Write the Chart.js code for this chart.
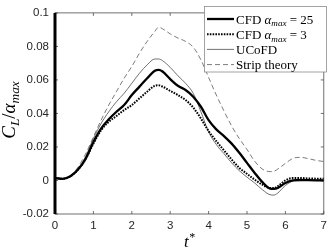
<!DOCTYPE html>
<html>
<head>
<meta charset="utf-8">
<script src="https://cdn.jsdelivr.net/npm/chart.js@4"></script>
<style>
  html, body { margin: 0; padding: 0; background: #fff; }
  #wrap { width: 332px; height: 252px; }
</style>
</head>
<body>
<div id="wrap"><canvas id="c"></canvas></div>
<script>
// time axis shared by all four curves
var tStar = [0, 0.2, 0.4, 0.6, 0.8, 1.0, 1.2, 1.4, 1.6, 1.8, 2.0, 2.2, 2.4, 2.6, 2.7, 2.8,
             3.0, 3.2, 3.4, 3.6, 3.8, 4.0, 4.2, 4.4, 4.6, 4.8, 5.0, 5.2, 5.4, 5.6, 5.7, 5.8,
             6.0, 6.2, 6.4, 6.6, 6.8, 7.0];

var cfd25 = [0.0015, 0.001, 0.0025, 0.0065, 0.013, 0.023, 0.031, 0.0365, 0.041, 0.045, 0.051, 0.056, 0.061, 0.0655, 0.066, 0.065,
             0.0605, 0.0565, 0.054, 0.05, 0.044, 0.036, 0.0305, 0.0265, 0.022, 0.0165, 0.0105, 0.0045, -0.001, -0.0048, -0.005, -0.0045,
             -0.0015, 0, 0.0003, 0.0002, 0.0001, 0];

var cfd3 = [0.0015, 0.001, 0.0025, 0.0065, 0.013, 0.022, 0.03, 0.035, 0.0385, 0.042, 0.045, 0.049, 0.053, 0.0565, 0.0568, 0.056,
            0.0535, 0.051, 0.048, 0.0435, 0.037, 0.0295, 0.0235, 0.018, 0.0125, 0.0075, 0.004, 0.0005, -0.0025, -0.0045, -0.0045, -0.0035,
            0, 0.0015, 0.0015, 0.0012, 0.0011, 0.001];

var ucofd = [0.0015, 0.001, 0.0025, 0.007, 0.0145, 0.025, 0.034, 0.041, 0.047, 0.052, 0.058, 0.064, 0.069, 0.0725, 0.0725, 0.0715,
             0.0675, 0.0625, 0.058, 0.052, 0.041, 0.029, 0.0215, 0.016, 0.0105, 0.0058, 0.002, -0.0015, -0.0055, -0.0085, -0.0087, -0.0075,
             -0.003, -0.0003, 0.0003, 0.0002, 0.0001, 0];

var strip = [0.0015, 0.001, 0.0025, 0.008, 0.016, 0.026, 0.036, 0.045, 0.053, 0.061, 0.068, 0.076, 0.083, 0.089, 0.0915, 0.0905,
             0.0875, 0.085, 0.083, 0.0795, 0.072, 0.0615, 0.051, 0.0415, 0.0325, 0.025, 0.0185, 0.0115, 0.0068, 0.0053, 0.0055, 0.0068,
             0.0102, 0.0132, 0.0138, 0.013, 0.012, 0.0113];

// impulsive start of the CFD run, goes off the scale at t* = 0
var tSpike = [0, 0];
var cfd25Spike = [-0.05, 0.15];

var xTicks = [0, 1, 2, 3, 4, 5, 6, 7];
var yTicks = [-0.02, 0, 0.02, 0.04, 0.06, 0.08, 0.1];

function pts(t, v) {
    return t.map(function (x, i) { return { x: x, y: v[i] }; });
}

var serif = '"Liberation Serif", "DejaVu Serif", serif';
var sans = '"Liberation Sans", Arial, sans-serif';

var legendRows = [
    { ds: 0, parts: [['CFD ', ''], ['\u03b1', 'i'], ['max', 'sub'], [' = 25', '']] },
    { ds: 1, parts: [['CFD ', ''], ['\u03b1', 'i'], ['max', 'sub'], [' = 3', '']] },
    { ds: 2, parts: [['UCoFD', '']] },
    { ds: 3, parts: [['Strip theory', '']] }
];

function drawParts(ctx, parts, x, y, size) {
    parts.forEach(function (p) {
        var sub = p[1] === 'sub', sup = p[1] === 'sup';
        var fs = (sub || sup) ? size * 0.7 : size;
        var it = (p[1] === 'i' || sub || sup) ? 'italic ' : '';
        ctx.font = it + fs + 'px ' + serif;
        var dy = sub ? size * 0.22 : (sup ? -size * 0.38 : 0);
        ctx.fillText(p[0], x, y + dy);
        x += ctx.measureText(p[0]).width;
    });
    return x;
}

function partsWidth(ctx, parts, size) {
    var w = 0;
    parts.forEach(function (p) {
        var sub = p[1] === 'sub', sup = p[1] === 'sup';
        var fs = (sub || sup) ? size * 0.7 : size;
        var it = (p[1] === 'i' || sub || sup) ? 'italic ' : '';
        ctx.font = it + fs + 'px ' + serif;
        w += ctx.measureText(p[0]).width;
    });
    return w;
}

var framePlugin = {
    id: 'frame',
    beforeDatasetsDraw: function (chart) {
        var ctx = chart.ctx, a = chart.chartArea;
        var xs = chart.scales.x, ys = chart.scales.y;
        ctx.save();
        ctx.strokeStyle = '#4d4d4d';
        ctx.lineWidth = 0.8;
        ctx.strokeRect(a.left, a.top, a.right - a.left, a.bottom - a.top);
        ctx.beginPath();
        xTicks.forEach(function (v) {
            var px = xs.getPixelForValue(v);
            ctx.moveTo(px, a.bottom); ctx.lineTo(px, a.bottom - 3);
            ctx.moveTo(px, a.top); ctx.lineTo(px, a.top + 3);
        });
        yTicks.forEach(function (v) {
            var py = ys.getPixelForValue(v);
            ctx.moveTo(a.left, py); ctx.lineTo(a.left + 3, py);
            ctx.moveTo(a.right, py); ctx.lineTo(a.right - 3, py);
        });
        ctx.stroke();
        ctx.restore();
    },
    afterDatasetsDraw: function (chart) {
        var ctx = chart.ctx, a = chart.chartArea;
        ctx.save();

        // legend box
        var bx = 204.5, by = 6.5, bw = 122, bh = 65.5;
        ctx.fillStyle = '#fff';
        ctx.fillRect(bx, by, bw, bh);
        ctx.strokeStyle = '#8c8c8c';
        ctx.lineWidth = 0.8;
        ctx.strokeRect(bx, by, bw, bh);
        legendRows.forEach(function (row, i) {
            var ds = chart.data.datasets[row.ds];
            var cy = 19 + i * 15.2;
            ctx.beginPath();
            ctx.strokeStyle = ds.borderColor;
            ctx.lineWidth = ds.borderWidth;
            ctx.setLineDash(ds.borderDash || []);
            ctx.moveTo(207, cy);
            ctx.lineTo(234, cy);
            ctx.stroke();
            ctx.setLineDash([]);
            ctx.fillStyle = '#000';
            ctx.textBaseline = 'alphabetic';
            ctx.textAlign = 'left';
            drawParts(ctx, row.parts, 236, cy + 4.5, 13);
        });

        // x title  t*
        ctx.fillStyle = '#000';
        var xt = [['t', 'i'], ['*', 'sup']];
        var w = partsWidth(ctx, xt, 17);
        drawParts(ctx, xt, (a.left + a.right) / 2 - w / 2, 247, 17);

        // y title  C_L / alpha_max
        var yt = [['C', 'i'], ['L', 'sub'], ['/', ''], ['\u03b1', 'i'], ['max', 'sub']];
        ctx.translate(15, 110);
        ctx.rotate(-Math.PI / 2);
        var wy = partsWidth(ctx, yt, 19);
        drawParts(ctx, yt, -wy / 2, 0, 19);
        ctx.restore();
    }
};

var tickFont = { family: sans, size: 11.5 };

new Chart(document.getElementById('c'), {
    type: 'line',
    data: {
        datasets: [
            { label: 'CFD alpha_max = 25', data: pts(tStar, cfd25), borderColor: '#000', borderWidth: 2.3,
              cubicInterpolationMode: 'monotone', pointRadius: 0 },
            { label: 'CFD alpha_max = 3', data: pts(tStar, cfd3), borderColor: '#000', borderWidth: 2,
              borderDash: [1.6, 1.2], cubicInterpolationMode: 'monotone', pointRadius: 0 },
            { label: 'UCoFD', data: pts(tStar, ucofd), borderColor: '#333', borderWidth: 0.7,
              cubicInterpolationMode: 'monotone', pointRadius: 0 },
            { label: 'Strip theory', data: pts(tStar, strip), borderColor: '#444', borderWidth: 0.7,
              borderDash: [5, 3], cubicInterpolationMode: 'monotone', pointRadius: 0 },
            { label: 'spike', data: pts(tSpike, cfd25Spike), borderColor: '#000', borderWidth: 3,
              pointRadius: 0, tension: 0, clip: { left: 3, right: 0, top: 0, bottom: 0 } }
        ]
    },
    options: {
        responsive: true,
        maintainAspectRatio: false,
        animation: false,
        devicePixelRatio: 1,
        layout: { padding: { top: 5, right: 4, left: 0, bottom: 0 } },
        plugins: { legend: { display: false }, tooltip: { enabled: false } },
        scales: {
            x: {
                type: 'linear', min: 0, max: 7,
                grid: { display: false, drawTicks: false },
                border: { display: false },
                afterBuildTicks: function (s) { s.ticks = xTicks.map(function (v) { return { value: v }; }); },
                ticks: { font: tickFont, color: '#262626', padding: 5, maxRotation: 0 },
                afterFit: function (s) { s.height = 38; }
            },
            y: {
                type: 'linear', min: -0.02, max: 0.1,
                grid: { display: false, drawTicks: false },
                border: { display: false },
                afterBuildTicks: function (s) { s.ticks = yTicks.map(function (v) { return { value: v }; }); },
                ticks: {
                    font: tickFont, color: '#262626', padding: 6,
                    callback: function (v) { return String(Math.round(v * 100) / 100); }
                },
                afterFit: function (s) { s.width = 55; }
            }
        }
    },
    plugins: [framePlugin]
});
</script>
</body>
</html>
